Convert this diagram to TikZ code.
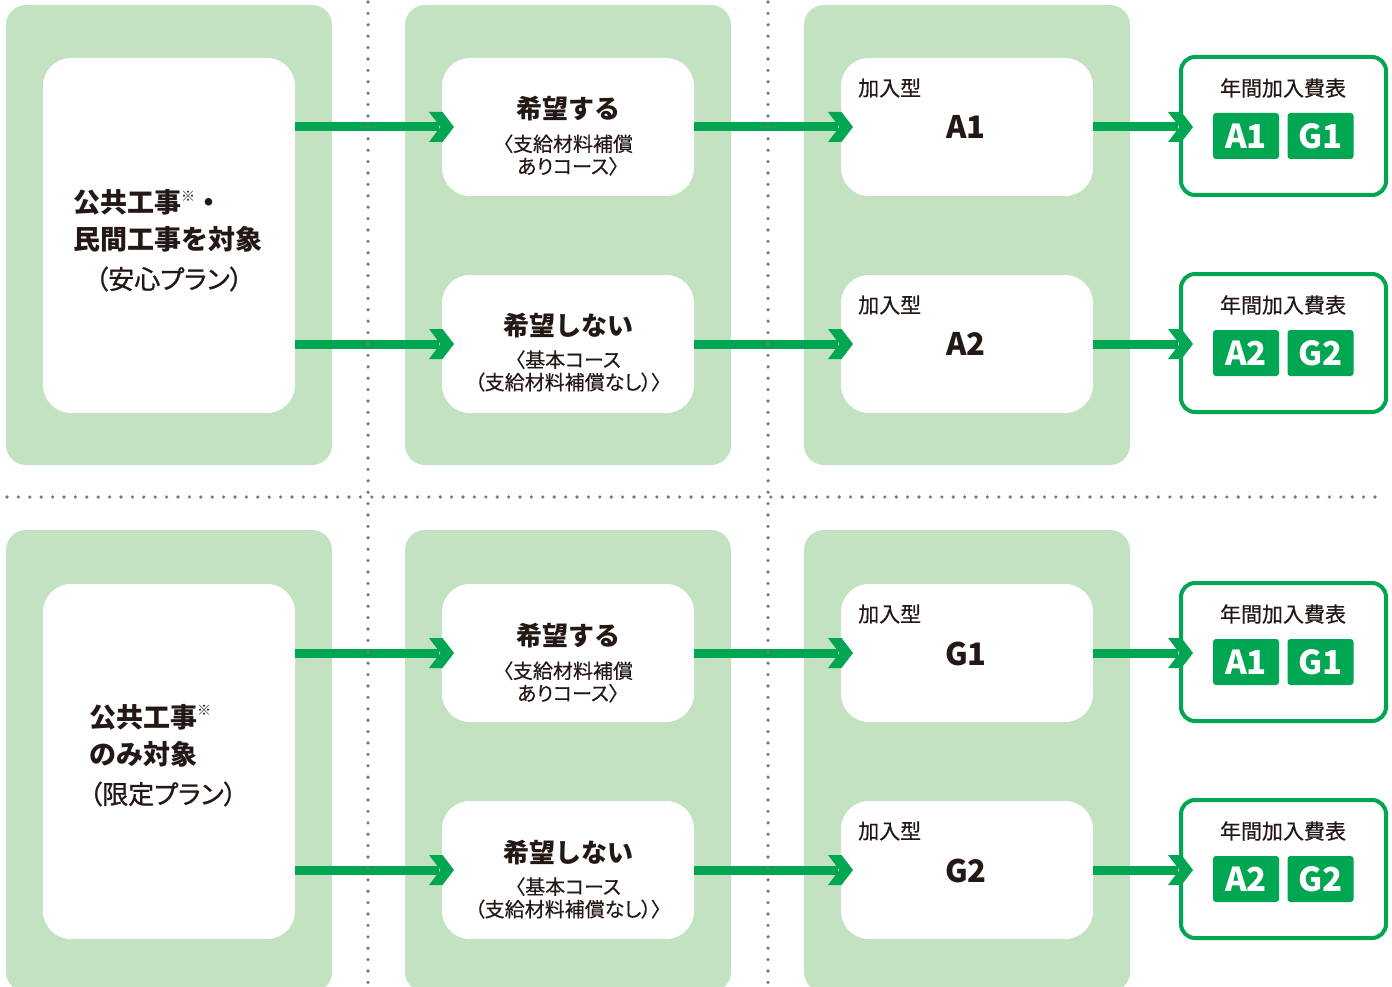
\documentclass[tikz,border=0pt]{standalone}
\usepackage{fontspec}
\setmainfont{Noto Sans CJK JP}
\newfontfamily\jpp[RawFeature=+palt,FakeBold=0.35]{Noto Sans CJK JP}
\newfontfamily\jpm[RawFeature=+palt,FakeBold=0.9]{Noto Sans CJK JP}
\newfontfamily\jpl[FakeBold=0.5]{Noto Sans CJK JP}
\usetikzlibrary{arrows.meta}
\definecolor{panel}{RGB}{195,226,193}
\definecolor{agreen}{RGB}{0,166,81}
\definecolor{ink}{RGB}{35,24,21}
\definecolor{dotc}{RGB}{120,120,120}
\newcommand{\komemark}{\raisebox{.42em}{\fontsize{14}{14}\selectfont ※}}
\pgfdeclarearrow{
  name = Chev,
  setup code = {
    \pgfarrowssettipend{0pt}
    \pgfarrowssetbackend{-25pt}
    \pgfarrowssetvisualbackend{-14pt}
    \pgfarrowssetlineend{-15pt}
    \pgfarrowshullpoint{0pt}{0pt}
    \pgfarrowsupperhullpoint{-25pt}{15pt}
    \pgfarrowsupperhullpoint{-11.5pt}{15pt}
  },
  drawing code = {
    \pgfpathmoveto{\pgfqpoint{0pt}{0pt}}
    \pgfpathlineto{\pgfqpoint{-11.5pt}{15pt}}
    \pgfpathlineto{\pgfqpoint{-25pt}{15pt}}
    \pgfpathlineto{\pgfqpoint{-13.5pt}{0pt}}
    \pgfpathlineto{\pgfqpoint{-25pt}{-15pt}}
    \pgfpathlineto{\pgfqpoint{-11.5pt}{-15pt}}
    \pgfpathclose
    \pgfusepathqfill
  }
}
\begin{document}
\begin{tikzpicture}[x=1pt,y=-1pt,
  panelbg/.style={fill=panel, rounded corners=20pt},
  whitebox/.style={fill=white, rounded corners=28pt, minimum width=252pt, inner sep=0pt, outer sep=0pt},
  ratebox/.style={draw=agreen, line width=4pt, fill=white, rounded corners=14pt, minimum width=205pt, minimum height=138pt, inner sep=0pt, outer sep=0pt},
  badge/.style={fill=agreen, text=white, rounded corners=3pt, minimum width=66pt, minimum height=46pt, inner sep=0pt, font=\bfseries\fontsize{33}{33}\selectfont},
  bigtxt/.style={text=ink, align=left, inner sep=0pt, font=\bfseries\fontsize{27}{37}\selectfont},
  plantxt/.style={text=ink, inner sep=0pt, font=\jpm\fontsize{26}{30}\selectfont},
  ttl/.style={text=ink, inner sep=0pt, font=\bfseries\fontsize{26}{30}\selectfont},
  subtxt/.style={text=ink, align=center, inner sep=0pt, font=\jpp\fontsize{20}{22.5}\selectfont},
  typetxt/.style={text=ink, anchor=west, inner sep=0pt, font=\jpl\fontsize{21}{24}\selectfont},
  codetxt/.style={text=ink, inner sep=0pt, font=\bfseries\fontsize{31}{31}\selectfont},
  tabletxt/.style={text=ink, inner sep=0pt, font=\jpl\fontsize{21}{24}\selectfont},
  flow/.style={draw=agreen, color=agreen, line width=9pt, -{Chev}, shorten >=-12pt},
  dots/.style={draw=dotc, line width=3.6pt, line cap=round, dash pattern=on 0pt off 11.4pt}
]
\useasboundingbox (0,0) rectangle (1392,987);
% panels
\foreach \px in {6,405,804}{
  \fill[panelbg] (\px,5) rectangle ++(326,460);
  \fill[panelbg] (\px,530) rectangle ++(326,462);
}
% ---------- top section ----------
\node[whitebox, minimum height=355pt] (L1) at (169,235.5) {};
\node[whitebox, minimum height=138pt] (M1) at (568,127) {};
\node[whitebox, minimum height=138pt] (M2) at (568,344) {};
\node[whitebox, minimum height=138pt] (T1) at (967,127) {};
\node[whitebox, minimum height=138pt] (T2) at (967,344) {};
\node[ratebox] (R1) at (1283.5,126) {};
\node[ratebox] (R2) at (1283.5,343) {};

\node[bigtxt, anchor=west] (L1a) at (73,221) {公共工事\komemark・\\民間工事を対象};
\node[plantxt] (L1b) at (169,279) {（安心プラン）};

\node[ttl] (M1a) at (568,109) {希望する};
\node[subtxt] (M1b) at (568,155) {〈支給材料補償\\ありコース〉};
\node[ttl] (M2a) at (568,326) {希望しない};
\node[subtxt] (M2b) at (568,371) {〈基本コース\\（支給材料補償なし）〉};

\node[typetxt] (T1a) at (858,88) {加入型};
\node[codetxt] (T1b) at (966,127) {A1};
\node[typetxt] (T2a) at (858,305) {加入型};
\node[codetxt] (T2b) at (966,344) {A2};

\node[tabletxt] (R1a) at (1283,88) {年間加入費表};
\node[badge] (R1x) at (1246,136) {A1};
\node[badge] (R1y) at (1320.5,136) {G1};
\node[tabletxt] (R2a) at (1283,305) {年間加入費表};
\node[badge] (R2x) at (1246,353) {A2};
\node[badge] (R2y) at (1320.5,353) {G2};

% ---------- bottom section ----------
\node[whitebox, minimum height=355pt] (L2) at (169,761.5) {};
\node[whitebox, minimum height=138pt] (M3) at (568,653) {};
\node[whitebox, minimum height=138pt] (M4) at (568,870) {};
\node[whitebox, minimum height=138pt] (T3) at (967,653) {};
\node[whitebox, minimum height=138pt] (T4) at (967,870) {};
\node[ratebox] (R3) at (1283.5,652) {};
\node[ratebox] (R4) at (1283.5,869) {};

\node[bigtxt, anchor=west] (L2a) at (89,735.5) {公共工事\komemark\\のみ対象};
\node[plantxt, anchor=west] (L2b) at (89,794) {（限定プラン）};

\node[ttl] (M3a) at (568,636) {希望する};
\node[subtxt] (M3b) at (568,682) {〈支給材料補償\\ありコース〉};
\node[ttl] (M4a) at (568,853) {希望しない};
\node[subtxt] (M4b) at (568,898) {〈基本コース\\（支給材料補償なし）〉};

\node[typetxt] (T3a) at (858,614) {加入型};
\node[codetxt] (T3b) at (966,654) {G1};
\node[typetxt] (T4a) at (858,831) {加入型};
\node[codetxt] (T4b) at (966,871) {G2};

\node[tabletxt] (R3a) at (1283,614) {年間加入費表};
\node[badge] (R3x) at (1246,662) {A1};
\node[badge] (R3y) at (1320.5,662) {G1};
\node[tabletxt] (R4a) at (1283,831) {年間加入費表};
\node[badge] (R4x) at (1246,879) {A2};
\node[badge] (R4y) at (1320.5,879) {G2};

% ---------- arrows ----------
\draw[flow] (L1.east |- M1) -- (M1.west);
\draw[flow] (L1.east |- M2) -- (M2.west);
\draw[flow] (M1.east) -- (T1.west);
\draw[flow] (M2.east) -- (T2.west);
\draw[flow] (T1.east) -- (R1.west |- T1.east);
\draw[flow] (T2.east) -- (R2.west |- T2.east);
\draw[flow] (L2.east |- M3) -- (M3.west);
\draw[flow] (L2.east |- M4) -- (M4.west);
\draw[flow] (M3.east) -- (T3.west);
\draw[flow] (M4.east) -- (T4.west);
\draw[flow] (T3.east) -- (R3.west |- T3.east);
\draw[flow] (T4.east) -- (R4.west |- T4.east);

% ---------- dotted separators ----------
\draw[dots] (368,2) -- (368,990);
\draw[dots] (768,2) -- (768,990);
\draw[dots] (7,497) -- (1385,497);
\end{tikzpicture}
\end{document}
